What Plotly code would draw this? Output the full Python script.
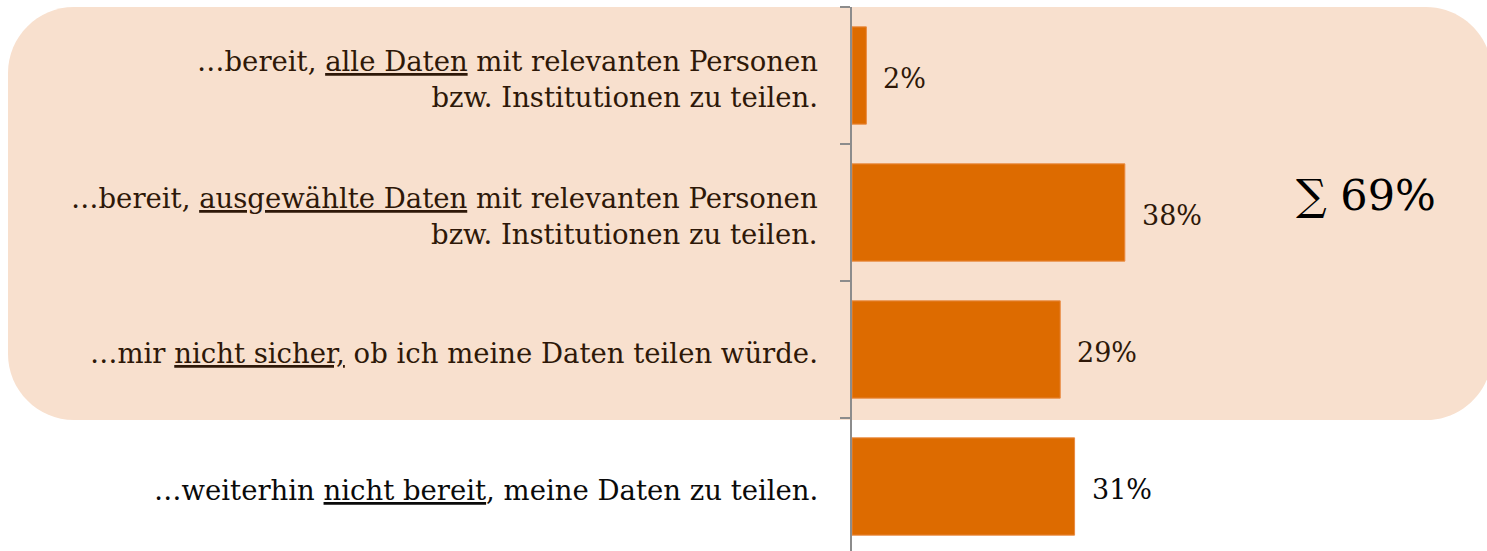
import plotly.graph_objects as go

# ---- data ----
categories = [
    "…bereit, <u>alle Daten</u> mit relevanten Personen<br>bzw. Institutionen zu teilen.",
    "…bereit, <u>ausgewählte Daten</u> mit relevanten Personen<br>bzw. Institutionen zu teilen.",
    "…mir <u>nicht sicher,</u> ob ich meine Daten teilen würde.",
    "…weiterhin <u>nicht bereit</u>, meine Daten zu teilen.",
]
values = [2, 38, 29, 31]
value_labels = ["2%", "38%", "29%", "31%"]
text_colors = ["#2E1808", "#2E1808", "#2E1808", "#0A0A0A"]
highlight_count = 3  # first three categories are grouped

W, H = 1487, 551
ML, MT = 852, 7
PW, PH = W - ML, H - MT
PX_PER_UNIT = 7.18
BAND = 137.0

def px_x(px):
    return (px - ML) / PW

def px_y(py):
    return (H - py) / PH

idx = list(range(len(categories)))

fig = go.Figure()

fig.add_trace(go.Bar(
    x=values, y=idx, orientation="h",
    marker=dict(color="#DD6B00", line=dict(color="#E98A40", width=1)),
    width=0.71, hoverinfo="skip", showlegend=False,
))

# rounded highlight background
x0, x1, y0, y1, r = 8, 1492, 7, 420, 66
k = 0.45
path = (
    f"M {px_x(x0 + r)},{px_y(y0)} "
    f"L {px_x(x1 - r)},{px_y(y0)} "
    f"C {px_x(x1 - r * k)},{px_y(y0)} {px_x(x1)},{px_y(y0 + r * k)} {px_x(x1)},{px_y(y0 + r)} "
    f"L {px_x(x1)},{px_y(y1 - r)} "
    f"C {px_x(x1)},{px_y(y1 - r * k)} {px_x(x1 - r * k)},{px_y(y1)} {px_x(x1 - r)},{px_y(y1)} "
    f"L {px_x(x0 + r)},{px_y(y1)} "
    f"C {px_x(x0 + r * k)},{px_y(y1)} {px_x(x0)},{px_y(y1 - r * k)} {px_x(x0)},{px_y(y1 - r)} "
    f"L {px_x(x0)},{px_y(y0 + r)} "
    f"C {px_x(x0)},{px_y(y0 + r * k)} {px_x(x0 + r * k)},{px_y(y0)} {px_x(x0 + r)},{px_y(y0)} Z"
)
fig.add_shape(type="path", path=path, xref="paper", yref="paper",
              fillcolor="#F8E0CE", line=dict(width=0), layer="below")

font_family = "DejaVu Serif"

# category labels
for i, (cat, col) in enumerate(zip(categories, text_colors)):
    fig.add_annotation(
        x=px_x(820), xref="paper", y=i, yref="y",
        text=cat, showarrow=False, xanchor="right", yanchor="middle",
        align="right", yshift=-3,
        font=dict(family=font_family, size=27.5, color=col),
    )

# value labels
for i, (v, lab, col) in enumerate(zip(values, value_labels, text_colors)):
    fig.add_annotation(
        x=v, y=i, xref="x", yref="y", text=lab, showarrow=False,
        xanchor="left", yanchor="middle", xshift=15, yshift=-3,
        font=dict(family=font_family, size=27, color=col),
    )

# sum annotation
total = sum(values[:highlight_count])
fig.add_annotation(
    x=px_x(1366), y=px_y(195), xref="paper", yref="paper",
    text=f"∑ {total}%", showarrow=False, xanchor="center", yanchor="middle",
    font=dict(family=font_family, size=43, color="#000000"),
)

y_top = -0.5
y_bottom = -0.5 + PH / BAND
fig.update_layout(
    width=W, height=H,
    margin=dict(l=ML, r=0, t=MT, b=0),
    paper_bgcolor="white", plot_bgcolor="rgba(0,0,0,0)",
    xaxis=dict(range=[0, PW / PX_PER_UNIT], visible=False, fixedrange=True),
    yaxis=dict(
        range=[y_bottom, y_top],
        tickvals=[-0.5, 0.5, 1.5, 2.5, 3.5], ticktext=[""] * 5,
        ticks="outside", ticklen=10, tickcolor="#8C8C8C", tickwidth=2,
        showline=True, linecolor="#8C8C8C", linewidth=2,
        showgrid=False, zeroline=False, fixedrange=True,
    ),
)

fig.write_html(
    "out.html",
    config={"displayModeBar": False},
    post_script="document.body.style.margin='0';document.body.style.overflow='hidden';",
)
